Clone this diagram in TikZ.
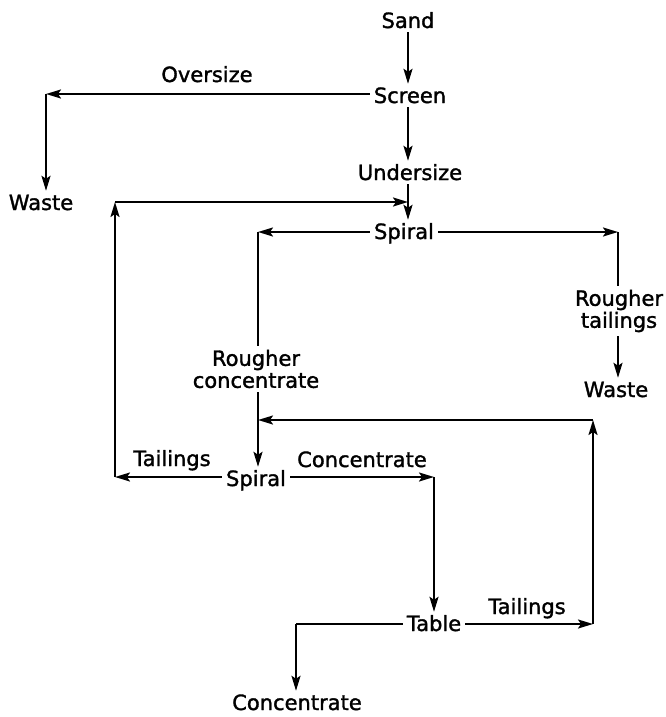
\documentclass[tikz,border=0pt]{standalone}
\usepackage{fontspec}
\setmainfont[FakeBold=1.5]{DejaVu Sans}
\usetikzlibrary{arrows.meta}
\begin{document}
\begin{tikzpicture}[x=1pt,y=-1pt,
  lbl/.style={font=\fontsize{21}{22}\selectfont, inner sep=4pt, text height=15pt, text depth=0pt, anchor=base},
  lbl2/.style={font=\fontsize{21}{22}\selectfont, inner sep=4pt, align=center},
  flow/.style={line width=2pt, -{Stealth[length=15pt,width=9pt,inset=3pt]}},
  plain/.style={line width=2pt}]
\useasboundingbox (0,0) rectangle (665,717);
% nodes
\node[lbl] (sand) at (408,28) {Sand};
\node[lbl] (screen) at (410,103) {Screen};
\node[lbl] (over) at (207,82) {Oversize};
\node[lbl] (wasteL) at (41,210) {Waste};
\node[lbl] (under) at (410,180) {Undersize};
\node[lbl] (spiral1) at (404,239) {Spiral};
\node[lbl2] (rtail) at (619,311) {Rougher\\tailings};
\node[lbl] (wasteR) at (616,397) {Waste};
\node[lbl2] (rconc) at (256,369) {Rougher\\concentrate};
\node[lbl] (tailL) at (172,466) {Tailings};
\node[lbl] (spiral2) at (256,486) {Spiral};
\node[lbl] (concL) at (362,467) {Concentrate};
\node[lbl] (table) at (434,631) {Table};
\node[lbl] (tailR) at (527,614) {Tailings};
\node[lbl] (concB) at (297,710) {Concentrate};
% corners
\coordinate (cOver) at (46,94);
\coordinate (cRec) at (115,202);
\coordinate (cS2L) at (115,477);
\coordinate (cS1L) at (258,232);
\coordinate (cS1R) at (618,232);
\coordinate (cRecR) at (593,420);
\coordinate (cTR) at (593,624);
\coordinate (cS2R) at (434,477);
\coordinate (cTL) at (296,624);
\coordinate (jTop) at (408,202);
\coordinate (jRC) at (258,420);
% connectors
\draw[flow] (sand.south -| 408,0) -- (screen.north -| 408,0);
\draw[flow] (screen.west |- cOver) -- (cOver);
\draw[flow] (cOver) -- (cOver |- wasteL.north);
\draw[flow] (screen.south -| 408,0) -- (under.north -| 408,0);
\draw[flow] (under.south -| 408,0) -- (spiral1.north -| 408,0);
\draw[flow] (spiral2.west |- cS2L) -- (cS2L);
\draw[flow] (cS2L) -- (cRec);
\draw[flow] (cRec) -- (jTop);
\draw[flow] (spiral1.west |- cS1L) -- (cS1L);
\draw[plain] (cS1L) -- (cS1L |- rconc.north);
\draw[flow] (cS1L |- rconc.south) -- (cS1L |- spiral2.north);
\draw[flow] (spiral1.east |- cS1R) -- (cS1R);
\draw[plain] (cS1R) -- (cS1R |- rtail.north);
\draw[flow] (cS1R |- rtail.south) -- (cS1R |- wasteR.north);
\draw[flow] (spiral2.east |- cS2R) -- (cS2R);
\draw[flow] (cS2R) -- (cS2R |- table.north);
\draw[flow] (table.east |- cTR) -- (cTR);
\draw[flow] (cTR) -- (cRecR);
\draw[flow] (cRecR) -- (jRC);
\draw[plain] (table.west |- cTL) -- (cTL);
\draw[flow] (cTL) -- (cTL |- concB.north);
\end{tikzpicture}
\end{document}
